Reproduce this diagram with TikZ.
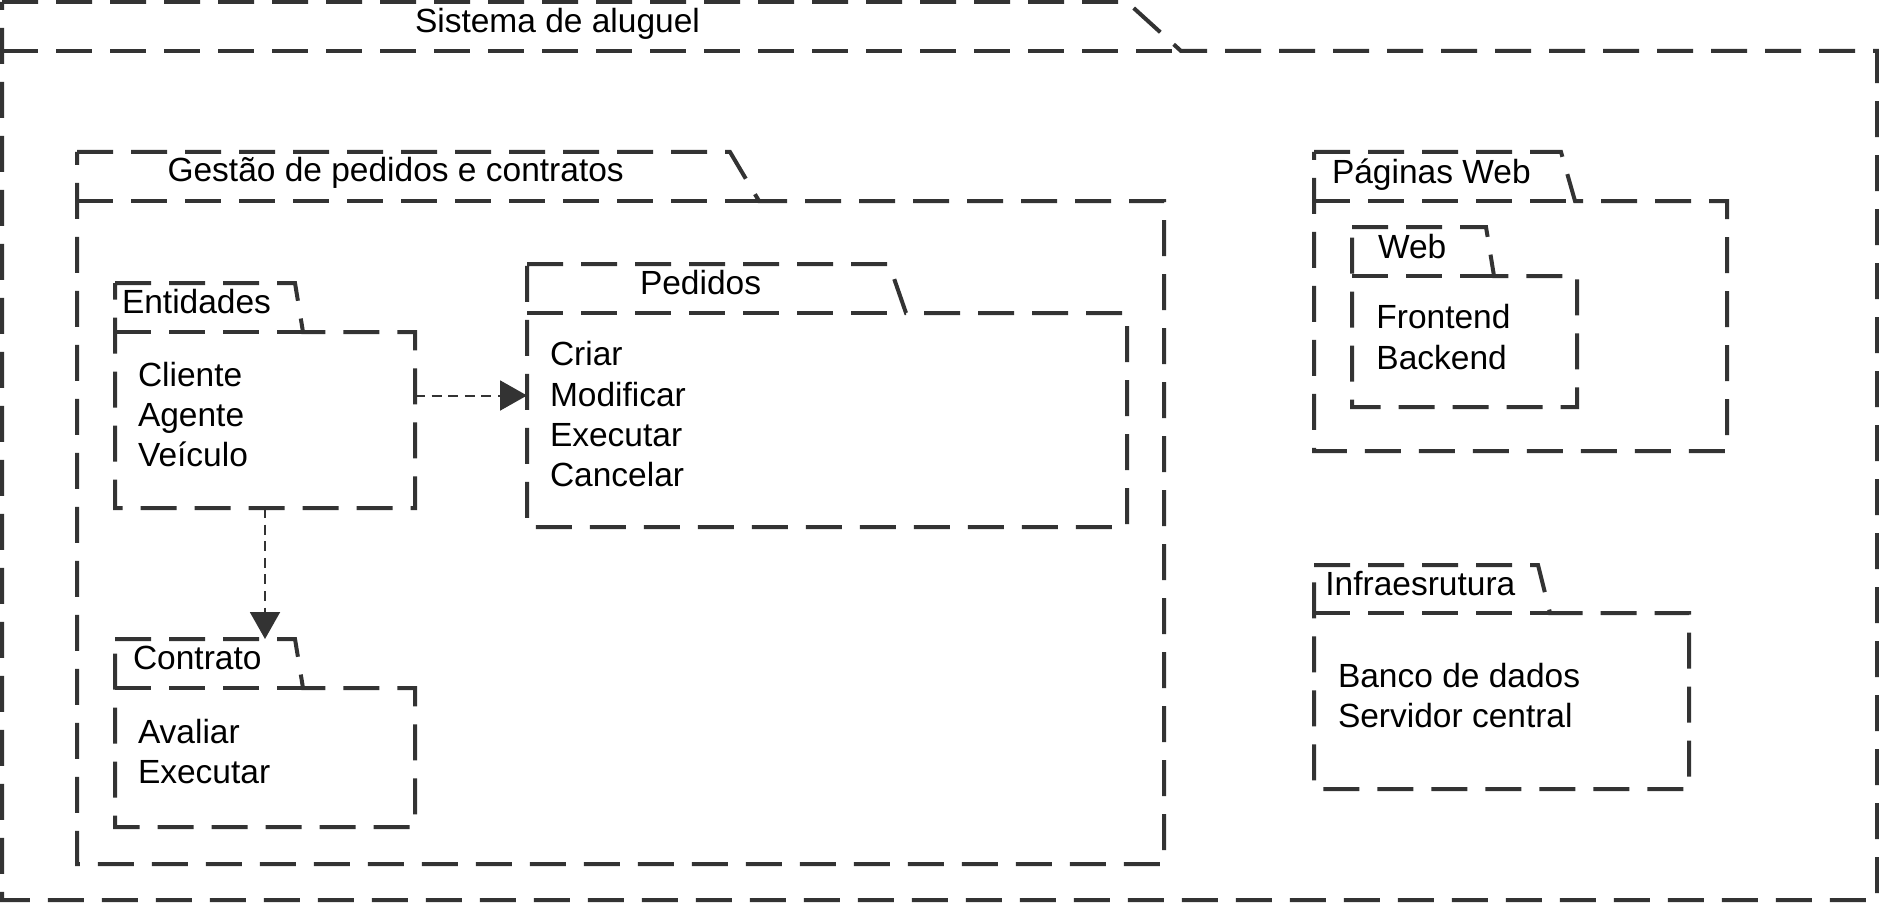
\documentclass[tikz,border=0pt]{standalone}
\usepackage{fontspec}
\setmainfont{Liberation Sans}
\usetikzlibrary{arrows.meta,fit}
\definecolor{ln}{HTML}{333333}
\tikzset{
  pkgline/.style={draw=ln, line width=2pt, dash pattern=on 18pt off 9pt, line join=miter},
  pkgnode/.style={inner sep=0pt, outer sep=0pt, draw=none},
  conn/.style={draw=ln, line width=1pt, dash pattern=on 5pt off 3.3pt, -{Triangle[length=13.5pt,width=15pt]}},
  lbl/.style={anchor=base west, inner sep=0pt, outer sep=0pt, text=black, font=\fontsize{16.75pt}{20pt}\selectfont}
}
% name, L, R, tabTop, bodyTop, bottom, S1, S2
\newcommand{\pkgbox}[8]{%
  \node[pkgnode, fit={(#2,#4) (#3,#6)}] (#1) {};
  \draw[pkgline] (#2,#4) -- (#7,#4) -- (#8,#5) -- (#3,#5) -- (#3,#6) -- (#2,#6) -- cycle;
  \draw[pkgline] (#2,#5) -- (#8,#5);
}
\begin{document}
\begin{tikzpicture}[x=0.5pt,y=-0.5pt]
\useasboundingbox (0,0) rectangle (1879,904);
\fill[white] (0,0) rectangle (1879,904);

\pkgbox{sis}{2}{1877}{2}{51}{900}{1127}{1181}
\pkgbox{ges}{77}{1164}{152}{201}{864}{730}{759}
\pkgbox{ent}{115}{415}{283}{332}{508}{295}{303}
\pkgbox{ped}{527}{1127}{264}{313}{527}{889}{906}
\pkgbox{con}{115}{415}{639}{688}{827}{295}{303}
\pkgbox{pag}{1314}{1727}{152}{201}{451}{1561}{1575}
\pkgbox{web}{1352}{1577}{227}{276}{407}{1486}{1494}
\pkgbox{inf}{1314}{1689}{565}{613}{789}{1538}{1550}

\draw[conn] (ent.east) -- (ped.west);
\draw[conn] (ent.south) -- (con.north);

\node[lbl] (tsis) at (415,32.5) {Sistema de aluguel};
\node[lbl] (tges) at (167.5,181.5) {Gestão de pedidos e contratos};
\node[lbl] (tent) at (122,313) {Entidades};
\node[lbl] (tent1) at (138,386) {Cliente};
\node[lbl] (tent2) at (138,426) {Agente};
\node[lbl] (tent3) at (138,466) {Veículo};
\node[lbl] (tped) at (640,294) {Pedidos};
\node[lbl] (tped1) at (550,365.5) {Criar};
\node[lbl] (tped2) at (550,406) {Modificar};
\node[lbl] (tped3) at (550,446) {Executar};
\node[lbl] (tped4) at (550,486.5) {Cancelar};
\node[lbl] (tcon) at (133,669) {Contrato};
\node[lbl] (tcon1) at (138,743.7) {Avaliar};
\node[lbl] (tcon2) at (138,783.6) {Executar};
\node[lbl] (tpag) at (1332,183.3) {Páginas Web};
\node[lbl] (tweb) at (1378,258.3) {Web};
\node[lbl] (tweb1) at (1376.4,328.6) {Frontend};
\node[lbl] (tweb2) at (1376.4,369) {Backend};
\node[lbl] (tinf) at (1325.4,595) {Infraesrutura};
\node[lbl] (tinf1) at (1338,687.2) {Banco de dados};
\node[lbl] (tinf2) at (1338,727.6) {Servidor central};
\end{tikzpicture}
\end{document}
